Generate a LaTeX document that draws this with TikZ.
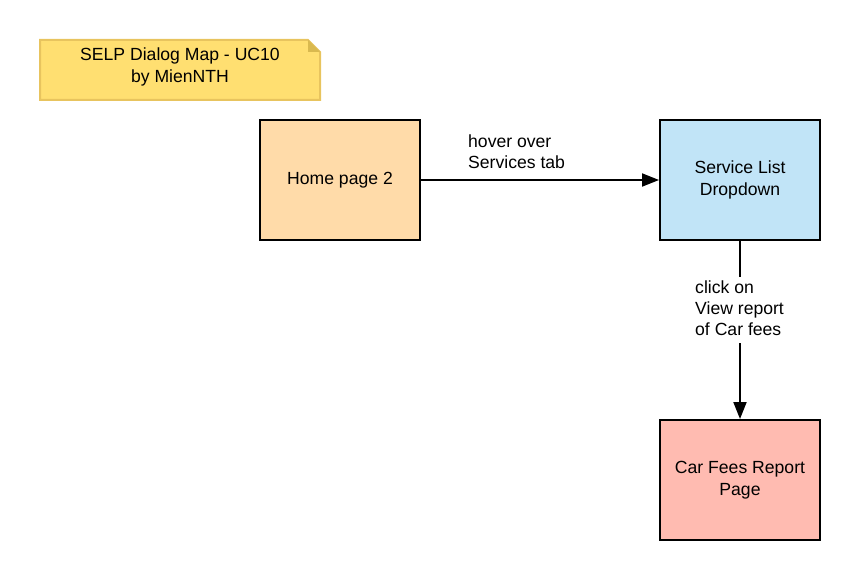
\documentclass[tikz,border=0pt]{standalone}
\usepackage{fontspec}
\setmainfont{Liberation Sans}
\usetikzlibrary{arrows.meta}
\definecolor{notefill}{HTML}{FFDF71}
\definecolor{notedraw}{HTML}{E8C45E}
\definecolor{notefold}{HTML}{D9B94F}
\definecolor{homefill}{HTML}{FFDBA9}
\definecolor{svcfill}{HTML}{C1E4F7}
\definecolor{carfill}{HTML}{FFBBB1}
\begin{document}
\begin{tikzpicture}[x=1pt,y=-1pt,
  pagebox/.style={draw=black,line width=2pt,minimum width=160pt,minimum height=120pt,align=center,font=\fontsize{17.6}{21.5}\selectfont,inner sep=0pt},
  conn/.style={line width=2pt,-{Triangle[length=17pt,width=13pt]}},
  lbl/.style={align=left,font=\fontsize{17.6}{21}\selectfont,inner sep=0pt}]
\useasboundingbox (0,0) rectangle (860,580);
% sticky note
\filldraw[fill=notefill,draw=notedraw,line width=2pt] (40,40) -- (308,40) -- (320,52) -- (320,100) -- (40,100) -- cycle;
\fill[notefold] (308,40) -- (320,52) -- (308,52) -- cycle;
\node[align=center,font=\fontsize{17.6}{21.5}\selectfont,inner sep=0pt] (note) at (180,67) {SELP Dialog Map - UC10\\by MienNTH};
% pages
\node[pagebox,fill=homefill] (home) at (340,180) {Home page 2};
\node[pagebox,fill=svcfill] (svc) at (740,180) {Service List\\Dropdown};
\node[pagebox,fill=carfill] (car) at (740,480) {Car Fees Report\\Page};
% connectors
\draw[conn] (home.east) -- (svc.west);
\node[lbl,anchor=west] (l1) at (468,152) {hover over\\Services tab};
\draw[line width=2pt] (svc.south) -- (740,277);
\coordinate (c2) at (740,343);
\draw[conn] (c2) -- (car.north);
\node[lbl,anchor=west] (l2) at (695,308) {click on\\View report\\of Car fees};
\end{tikzpicture}
\end{document}
